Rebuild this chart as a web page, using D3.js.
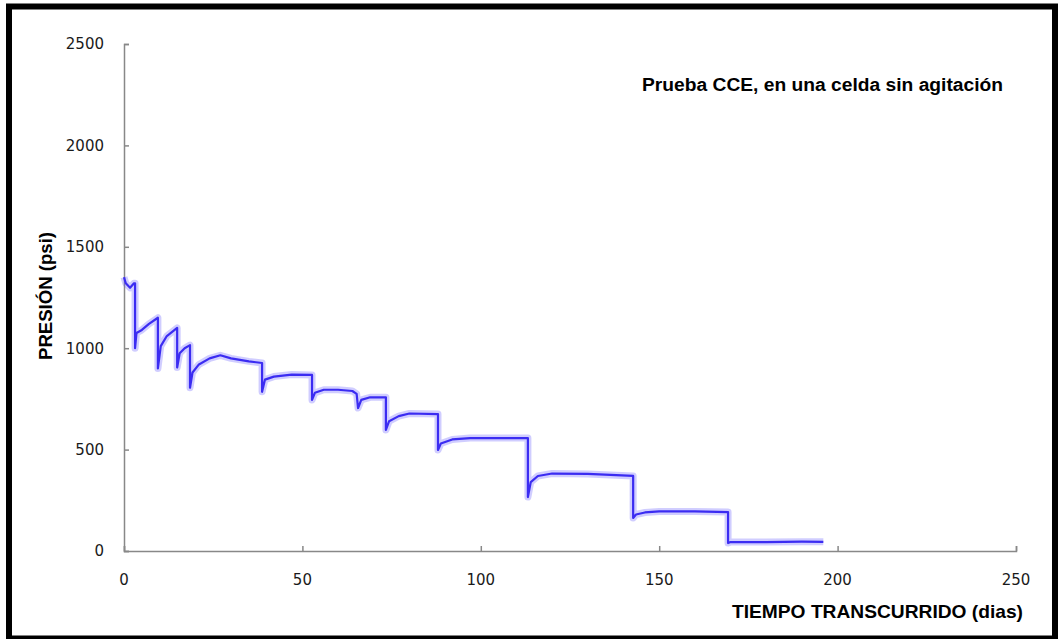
<!DOCTYPE html>
<html>
<head>
<meta charset="utf-8">
<script src="https://cdn.jsdelivr.net/npm/d3@7"></script>
<style>
  body { margin: 0; background: #fff; }
  svg { display: block; }
</style>
</head>
<body>
<svg width="1058" height="639"></svg>
<script>
// dias transcurridos y presion (psi)
var dias = [0, 0.5, 1.7, 2.8, 3.1, 3.1, 3.5, 5, 7, 9.5, 9.5, 10.3, 12, 14.9, 14.9, 15.6, 17, 18.5, 18.5, 19.2,
  21, 24, 27, 30, 35, 38.7, 38.7, 39.5, 42, 47, 52.7, 52.7, 53.5, 56, 60, 64, 65.2, 65.6, 66.5, 69,
  73.4, 73.4, 74.3, 77, 80, 88, 88, 88.8, 92, 97, 105, 113.2, 113.2, 114, 116, 120, 130, 142.7, 142.7, 143.5,
  146, 150, 160, 169.3, 169.3, 170, 180, 190, 196];
var presion = [1350, 1320, 1298, 1320, 1320, 1000, 1075, 1090, 1120, 1150, 900, 1010, 1060, 1100, 905, 975, 1000, 1015, 805, 880,
  920, 950, 965, 950, 935, 927, 785, 845, 860, 870, 868, 745, 780, 795, 795, 789, 775, 705, 745, 758,
  758, 597, 640, 665, 678, 675, 498, 530, 550, 557, 557, 557, 266, 340, 370, 382, 380, 370, 163, 180,
  190, 195, 195, 192, 39, 44, 44, 46, 45];

var xTicks = [0, 50, 100, 150, 200, 250];
var yTicks = [0, 500, 1000, 1500, 2000, 2500];

var svg = d3.select("svg"),
  width = +svg.attr("width"),
  height = +svg.attr("height");

var x = d3.scaleLinear().domain([0, 250]).range([124, 1016]);
var y = d3.scaleLinear().domain([0, 2500]).range([551, 44]);

var axisColor = "#888";
var tickFont = "'DejaVu Sans', Verdana, sans-serif";

// marco negro
svg.append("rect")
  .attr("x", 9).attr("y", 6.5)
  .attr("width", 1046).attr("height", 632)
  .attr("fill", "none")
  .attr("stroke", "#000")
  .attr("stroke-width", 6);

// eje y
var yAxis = svg.append("g")
  .attr("transform", "translate(124,0)")
  .call(d3.axisRight(y).tickValues(yTicks).tickSize(5).tickFormat(""));
yAxis.select(".domain").attr("stroke", axisColor).attr("stroke-width", 1.5);
yAxis.selectAll(".tick line").attr("stroke", axisColor).attr("stroke-width", 1.5);

svg.append("g").selectAll("text")
  .data(yTicks)
  .enter().append("text")
  .attr("x", 104)
  .attr("y", function(d) { return y(d); })
  .attr("dy", "0.36em")
  .attr("text-anchor", "end")
  .attr("font-family", tickFont)
  .attr("font-size", 15)
  .attr("fill", "#1a1a1a")
  .text(function(d) { return d; });

// eje x
var xAxis = svg.append("g")
  .attr("transform", "translate(0,551)")
  .call(d3.axisTop(x).tickValues(xTicks).tickSize(5).tickFormat(""));
xAxis.select(".domain").attr("stroke", axisColor).attr("stroke-width", 1.5);
xAxis.selectAll(".tick line").attr("stroke", axisColor).attr("stroke-width", 1.5);

svg.append("g").selectAll("text")
  .data(xTicks)
  .enter().append("text")
  .attr("x", function(d) { return x(d); })
  .attr("y", 585)
  .attr("text-anchor", "middle")
  .attr("font-family", tickFont)
  .attr("font-size", 15)
  .attr("fill", "#1a1a1a")
  .text(function(d) { return d; });

// serie
var puntos = dias.map(function(d, i) { return [d, presion[i]]; });
var line = d3.line()
  .x(function(d) { return x(d[0]); })
  .y(function(d) { return y(d[1]); });

svg.append("path")
  .datum(puntos)
  .attr("d", line)
  .attr("fill", "none")
  .attr("stroke", "rgba(100,90,255,0.3)")
  .attr("stroke-width", 7)
  .attr("stroke-linejoin", "round");

svg.append("path")
  .datum(puntos)
  .attr("d", line)
  .attr("fill", "none")
  .attr("stroke", "#3b2cf2")
  .attr("stroke-width", 2.2)
  .attr("stroke-linejoin", "round");

// textos
var boldFont = "'Liberation Sans', Arial, sans-serif";

svg.append("text")
  .attr("x", 642).attr("y", 91)
  .attr("font-family", boldFont)
  .attr("font-weight", "bold")
  .attr("font-size", 18)
  .attr("textLength", 361)
  .attr("lengthAdjust", "spacingAndGlyphs")
  .text("Prueba CCE, en una celda sin agitación");

svg.append("text")
  .attr("x", 732).attr("y", 618)
  .attr("font-family", boldFont)
  .attr("font-weight", "bold")
  .attr("font-size", 19)
  .attr("textLength", 291)
  .attr("lengthAdjust", "spacingAndGlyphs")
  .text("TIEMPO TRANSCURRIDO (dias)");

svg.append("text")
  .attr("transform", "translate(52,360) rotate(-90)")
  .attr("font-family", boldFont)
  .attr("font-weight", "bold")
  .attr("font-size", 19)
  .attr("textLength", 128)
  .attr("lengthAdjust", "spacingAndGlyphs")
  .text("PRESIÓN (psi)");
</script>
</body>
</html>
